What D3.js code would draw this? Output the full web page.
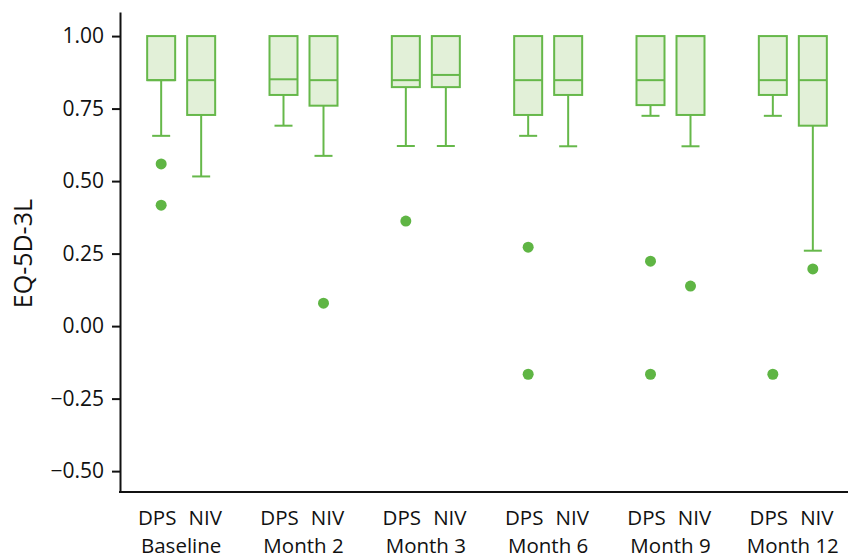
<!DOCTYPE html>
<html>
<head>
<meta charset="utf-8">
<script src="https://cdn.jsdelivr.net/npm/d3@7"></script>
<style>
  body { margin: 0; background: #fff; }
  text { font-family: "Open Sans", "Noto Sans", sans-serif; fill: #111; }
</style>
</head>
<body>
<div id="chart"></div>
<script>
const timepoints = ["Baseline", "Month 2", "Month 3", "Month 6", "Month 9", "Month 12"];
const groups = ["DPS", "NIV"];

// per box: [whiskerLow, q1, median, q3, whiskerHigh], order timepoint x group
const dpsStats = [
  [0.656, 0.848, 0.848, 1.0, 1.0],
  [0.691, 0.797, 0.851, 1.0, 1.0],
  [0.621, 0.824, 0.848, 1.0, 1.0],
  [0.656, 0.728, 0.848, 1.0, 1.0],
  [0.725, 0.762, 0.848, 1.0, 1.0],
  [0.725, 0.797, 0.848, 1.0, 1.0]
];
const nivStats = [
  [0.516, 0.728, 0.848, 1.0, 1.0],
  [0.587, 0.760, 0.848, 1.0, 1.0],
  [0.621, 0.824, 0.866, 1.0, 1.0],
  [0.620, 0.797, 0.848, 1.0, 1.0],
  [0.620, 0.728, 1.0, 1.0, 1.0],
  [0.260, 0.691, 0.848, 1.0, 1.0]
];
const dpsOutliers = [[0.559, 0.417], [], [0.362], [0.272, -0.166], [0.224, -0.166], [-0.166]];
const nivOutliers = [[], [0.079], [], [], [0.138], [0.197]];

const yTicks = [1.0, 0.75, 0.5, 0.25, 0, -0.25, -0.5];

const w = 848, h = 558;
const mLeft = 120, mRight = 854, mTop = 12, mBottom = 492;

const svg = d3.select("#chart").append("svg")
  .attr("width", w)
  .attr("height", h);

const x0 = d3.scaleBand().domain(timepoints).range([mLeft, mRight]).padding(0);
const x1 = d3.scalePoint().domain(groups).range([-20, 20]);
const xLab = d3.scalePoint().domain(groups).range([-24, 24]);
const y = d3.scaleLinear().domain([-0.572, 1.083]).range([mBottom, mTop]);

const green = "#66b84a";
const fill = "#e2f0d8";
const boxW = 28, capW = 18;

// build flat box list
const boxes = [];
timepoints.forEach((t, i) => {
  boxes.push({ t: t, g: "DPS", s: dpsStats[i], out: dpsOutliers[i] });
  boxes.push({ t: t, g: "NIV", s: nivStats[i], out: nivOutliers[i] });
});
const mid = (t) => x0(t) + x0.bandwidth() / 2;
const cx = (d) => mid(d.t) + x1(d.g);

const bx = svg.append("g").selectAll("g")
  .data(boxes)
  .enter()
  .append("g");

// whisker
bx.append("line")
  .attr("x1", cx).attr("x2", cx)
  .attr("y1", (d) => y(d.s[0])).attr("y2", (d) => y(d.s[1]))
  .attr("stroke", green).attr("stroke-width", 2);
bx.append("line")
  .attr("x1", (d) => cx(d) - capW / 2).attr("x2", (d) => cx(d) + capW / 2)
  .attr("y1", (d) => y(d.s[0])).attr("y2", (d) => y(d.s[0]))
  .attr("stroke", green).attr("stroke-width", 2);

// box
bx.append("rect")
  .attr("x", (d) => cx(d) - boxW / 2)
  .attr("y", (d) => y(d.s[3]))
  .attr("width", boxW)
  .attr("height", (d) => y(d.s[1]) - y(d.s[3]))
  .attr("fill", fill)
  .attr("stroke", green).attr("stroke-width", 2);

// median
bx.append("line")
  .attr("x1", (d) => cx(d) - boxW / 2).attr("x2", (d) => cx(d) + boxW / 2)
  .attr("y1", (d) => y(d.s[2])).attr("y2", (d) => y(d.s[2]))
  .attr("stroke", green).attr("stroke-width", 2);

// outliers
bx.selectAll("circle")
  .data((d) => d.out.map((v) => ({ v: v, x: cx(d) })))
  .enter()
  .append("circle")
  .attr("cx", (d) => d.x)
  .attr("cy", (d) => y(d.v))
  .attr("r", 5.5)
  .attr("fill", "#5fb544");

// y axis
const yAxis = d3.axisLeft(y).tickValues(yTicks).tickFormat(d3.format(".2f")).tickSize(8).tickSizeOuter(0);
const ya = svg.append("g")
  .attr("transform", "translate(" + mLeft + ",0)")
  .call(yAxis);
ya.select(".domain").attr("stroke", "#111").attr("stroke-width", 2);
ya.selectAll(".tick line").attr("stroke", "#111").attr("stroke-width", 2);
ya.selectAll(".tick text").attr("font-size", 21).attr("x", -16)
  .style("font-family", "'Open Sans', 'Noto Sans', sans-serif").attr("fill", "#111");

// x axis line
svg.append("line")
  .attr("x1", mLeft - 1).attr("x2", w)
  .attr("y1", mBottom).attr("y2", mBottom)
  .attr("stroke", "#111").attr("stroke-width", 2);

// x labels
const xl = svg.append("g");
boxes.forEach((d) => {
  xl.append("text")
    .attr("x", mid(d.t) + xLab(d.g))
    .attr("y", 525)
    .attr("text-anchor", "middle")
    .attr("font-size", 20.5)
    .text(d.g);
});
timepoints.forEach((t) => {
  xl.append("text")
    .attr("x", mid(t))
    .attr("y", 553)
    .attr("text-anchor", "middle")
    .attr("font-size", 20.5)
    .text(t);
});

// y label
svg.append("text")
  .attr("transform", "translate(32," + y(0.25) + ") rotate(-90)")
  .attr("text-anchor", "middle")
  .attr("font-size", 25)
  .text("EQ-5D-3L");
</script>
</body>
</html>
